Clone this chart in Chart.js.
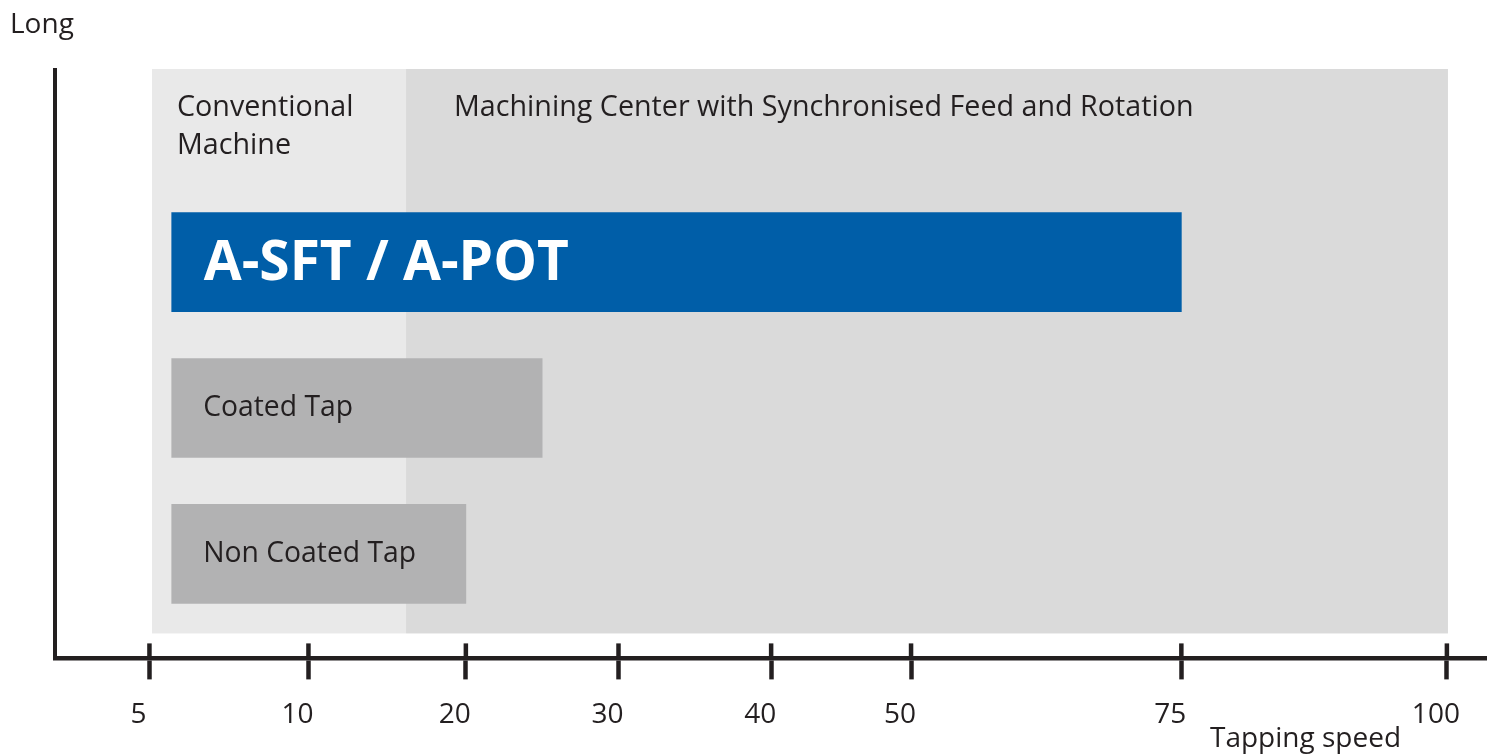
<!DOCTYPE html>
<html>
<head>
<meta charset="utf-8">
<script src="https://cdn.jsdelivr.net/npm/chart.js@4"></script>
<style>
    html, body { margin: 0; padding: 0; background: #fff; }
    #wrap { width: 1491px; height: 755px; position: relative; }
</style>
</head>
<body>
<div id="wrap"><canvas id="speedChart"></canvas></div>
<script>
// --- Data ---
const products = ['A-SFT / A-POT', 'Coated Tap', 'Non Coated Tap'];
const speedFrom = [5.7, 5.7, 5.7];
const speedTo = [75, 25, 20];

const tickLabels = ['5', '10', '20', '30', '40', '50', '75', '100'];
const tickSpeeds = [5, 10, 20, 30, 40, 50, 75, 100];
// printed axis is not to scale: place of each tick along the axis, in steps
const tickSteps = [0, 1, 1.99, 2.95, 3.91, 4.79, 6.49, 8.16];

const regionNames = [['Conventional', 'Machine'], ['Machining Center with Synchronised Feed and Rotation']];
const regionFrom = [5.08, 16.2];
const regionTo = [16.2, 100.1];

// --- Helpers ---
const INK = '#231f20';
const FONT = '"Open Sans", "Noto Sans", sans-serif';

// speed -> axis step, piecewise between the printed ticks
const toStep = v => {
    let i = 0;
    while (i < tickSpeeds.length - 2 && v > tickSpeeds[i + 1]) i++;
    const t = (v - tickSpeeds[i]) / (tickSpeeds[i + 1] - tickSpeeds[i]);
    return tickSteps[i] + t * (tickSteps[i + 1] - tickSteps[i]);
};

const barColors = ['#005ea8', '#b2b2b3', '#b2b2b3'];
const labelStyles = [
    { font: `bold 55px ${FONT}`, color: '#ffffff', pad: 32 },
    { font: `28.3px ${FONT}`, color: INK, pad: 31.5 },
    { font: `28.3px ${FONT}`, color: INK, pad: 31.5 }
];

// background bands + their captions
const regionPlugin = {
    id: 'regions',
    beforeDatasetsDraw(chart) {
        const { ctx, chartArea, scales: { x, y } } = chart;
        const fills = ['#e9e9e9', '#dadada'];
        const top = chartArea.top - 1;
        const bottom = y.getPixelForValue(0.454);
        ctx.save();
        regionNames.forEach((name, i) => {
            const x0 = x.getPixelForValue(toStep(regionFrom[i]));
            const x1 = x.getPixelForValue(toStep(regionTo[i]));
            ctx.fillStyle = fills[i];
            ctx.fillRect(x0, top, x1 - x0, bottom - top);
        });
        ctx.fillStyle = INK;
        ctx.font = `28.7px ${FONT}`;
        ctx.textBaseline = 'alphabetic';
        const pads = [25, 48];
        regionNames.forEach((name, i) => {
            const x0 = x.getPixelForValue(toStep(regionFrom[i]));
            name.forEach((line, j) => ctx.fillText(line, x0 + pads[i], 116 + j * 38));
        });
        ctx.restore();
    }
};

// labels inside the bars, tick crossings above the axis, axis captions
const labelPlugin = {
    id: 'labels',
    afterDatasetsDraw(chart) {
        const { ctx } = chart;
        const meta = chart.getDatasetMeta(0);
        ctx.save();
        ctx.textBaseline = 'alphabetic';
        meta.data.forEach((bar, i) => {
            const st = labelStyles[i];
            ctx.font = st.font;
            ctx.fillStyle = st.color;
            const cap = ctx.measureText('H').actualBoundingBoxAscent;
            ctx.fillText(products[i], Math.min(bar.base, bar.x) + st.pad, bar.y + cap / 2 - 2.5);
        });
        ctx.restore();
    },
    afterDraw(chart) {
        const { ctx, scales: { x } } = chart;
        ctx.save();
        ctx.fillStyle = INK;
        x.ticks.forEach((t, i) => {
            const px = x.getPixelForTick(i);
            ctx.fillRect(px - 2.25, x.top - 15, 4.5, 16);
        });
        ctx.font = `28px ${FONT}`;
        ctx.textBaseline = 'alphabetic';
        ctx.fillText('Long', 10, 33);
        ctx.fillText('Tapping speed', 1210, 747);
        ctx.restore();
    }
};

// --- Chart ---
document.addEventListener('DOMContentLoaded', () => {
    const ctx = document.getElementById('speedChart').getContext('2d');
    new Chart(ctx, {
        type: 'bar',
        data: {
            datasets: [{
                data: products.map((p, i) => ({ y: products.length - i, x: [toStep(speedFrom[i]), toStep(speedTo[i])] })),
                backgroundColor: barColors,
                borderWidth: 0,
                barThickness: 99
            }]
        },
        options: {
            indexAxis: 'y',
            responsive: true,
            maintainAspectRatio: false,
            animation: false,
            layout: { padding: { left: 55, top: 70, right: 5, bottom: 4 } },
            plugins: { legend: { display: false }, tooltip: { enabled: false } },
            scales: {
                x: {
                    type: 'linear',
                    min: -0.594,
                    max: 8.406,
                    afterBuildTicks: scale => { scale.ticks = tickSteps.map(v => ({ value: v })); },
                    ticks: {
                        autoSkip: false,
                        maxRotation: 0,
                        padding: 19,
                        labelOffset: -11,
                        color: INK,
                        font: { family: FONT, size: 28 },
                        callback: (v, i) => tickLabels[i]
                    },
                    grid: { display: true, drawOnChartArea: false, drawTicks: true, tickLength: 21, tickWidth: 4.5, tickColor: INK },
                    border: { display: true, width: 4.5, color: INK }
                },
                y: {
                    type: 'linear',
                    min: 0.283,
                    max: 4.317,
                    bounds: 'data',
                    offset: false,
                    ticks: { display: false },
                    grid: { display: false, drawTicks: false, offset: false },
                    border: { display: true, width: 4, color: INK }
                }
            }
        },
        plugins: [regionPlugin, labelPlugin]
    });
});
</script>
</body>
</html>
